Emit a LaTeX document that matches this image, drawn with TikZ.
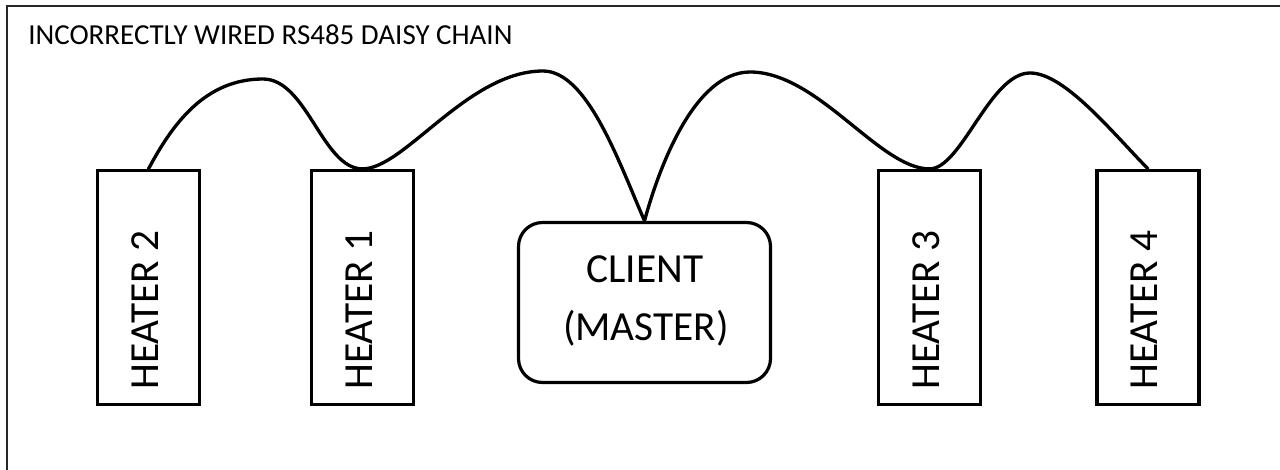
\documentclass[tikz,border=0pt]{standalone}
\usepackage{fontspec}
\setmainfont{Carlito}
\begin{document}
\begin{tikzpicture}[
  x=0.75pt, y=-0.75pt,
  heater/.style={draw, line width=2.4pt, minimum width=76.5pt, minimum height=175.5pt, inner sep=0pt},
  clientbox/.style={draw, line width=2.4pt, rounded corners=18pt, minimum width=189pt, minimum height=120pt, inner sep=0pt},
  vlabel/.style={rotate=90, anchor=base, inner sep=0pt, font=\fontsize{31}{37}\selectfont},
  hlabel/.style={anchor=base, inner sep=0pt, font=\fontsize{31}{37}\selectfont},
  wire/.style={line width=2.5pt, line cap=round, line join=round},
  frame/.style={line width=1.1pt, draw=black!85}
]
\useasboundingbox (0,0) rectangle (1280,470);

% outer frame (top and left edges)
\draw[frame] (1280,6) -- (7,6) -- (7,470);

% title
\node[anchor=base west, inner sep=0pt, font=\fontsize{21.75}{26}\selectfont] (title) at (28,45) {INCORRECTLY WIRED RS485 DAISY CHAIN};

% heaters
\node[heater] (h2) at (148.5,287.5) {};
\node[heater] (h1) at (362.5,287.5) {};
\node[heater] (h3) at (929.5,287.5) {};
\node[heater] (h4) at (1148,287.5) {};
\node[vlabel] (h2t) at (158.5,310) {HEATER 2};
\node[vlabel] (h1t) at (372.5,310) {HEATER 1};
\node[vlabel] (h3t) at (939.5,310) {HEATER 3};
\node[vlabel] (h4t) at (1157.5,310) {HEATER 4};

% client
\node[clientbox] (cl) at (644.5,302.5) {};
\node[hlabel] (clt1) at (645,282) {CLIENT};
\node[hlabel] (clt2) at (646,340) {(MASTER)};

% crest points of the cable
\coordinate (pA) at (263,79);
\coordinate (pB) at (543,71);
\coordinate (pC) at (750,72);
\coordinate (pD) at (1030,73);

% the daisy-chain cable
\draw[wire] (h2.north) .. controls +(24,-45) and +(-58,0) .. (pA)
  .. controls +(44,0) and +(-40,0) .. (h1.north)
  .. controls +(42,0) and +(-75,0) .. (pB)
  .. controls +(44,0) and +(-26,-60) .. (cl.north)
  .. controls +(14,-52) and +(-56,0) .. (pC)
  .. controls +(68,0) and +(-50,0) .. (h3.north)
  .. controls +(32,0) and +(-40,0) .. (pD)
  .. controls +(34,0) and +(-38,-39) .. (h4.north);
\end{tikzpicture}
\end{document}
